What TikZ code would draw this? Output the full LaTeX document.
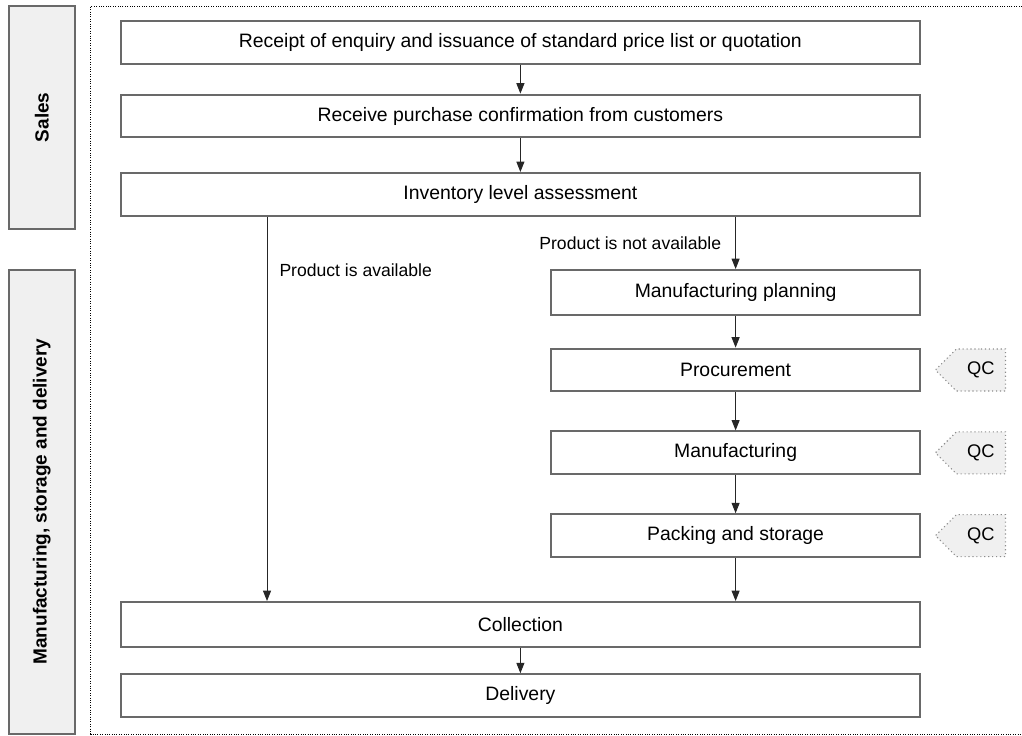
\documentclass[tikz,border=0pt]{standalone}
\usepackage{fontspec}
\setmainfont{Liberation Sans}
\definecolor{boxgray}{RGB}{105, 105, 105}
\definecolor{panelfill}{RGB}{240, 240, 240}
\definecolor{tagline}{RGB}{140, 140, 140}
\usetikzlibrary{shapes.symbols, arrows.meta, positioning, calc}

\tikzset{
  stepbox/.style={draw=boxgray, line width=1.4pt, fill=white, minimum height=1.07cm, inner sep=0pt, font=\fontsize{13.8}{16}\selectfont, align=center},
  sidebox/.style={draw=boxgray, line width=1.4pt, fill=panelfill, minimum width=1.66cm, inner sep=0pt, font=\fontsize{13.5}{16}\selectfont\bfseries},
  qctag/.style={shape=signal, signal to=west, signal pointer angle=90, draw=tagline, dotted, line width=0.8pt, fill=panelfill, minimum height=1.05cm, inner ysep=0pt, inner xsep=0.27cm, font=\fontsize{13}{15}\selectfont},
  flow/.style={-{Triangle[length=0.26cm, width=0.2cm]}, line width=0.7pt, draw=black!85},
  branch/.style={font=\fontsize{12.5}{15}\selectfont, inner sep=0pt},
}

\begin{document}
\begin{tikzpicture}
  \useasboundingbox (0, 0) rectangle (25.55, -18.375);

  % Department columns
  \node[sidebox, minimum height=5.58cm] (sales) at (1.046, -2.934) {\rotatebox{90}{Sales}};
  \node[sidebox, minimum height=11.6cm] (mfgside) at (1.046, -12.54) {\rotatebox{90}{Manufacturing, storage and delivery}};

  % Process frame
  \draw[densely dotted, line width=0.7pt] (25.55, -0.15) -| (2.27, -18.35) -- (25.55, -18.35);

  % Sales steps
  \node[stepbox, minimum width=19.97cm] (enq) at (13.01, -1.06) {Receipt of enquiry and issuance of standard price list or quotation};
  \node[stepbox, minimum width=19.97cm] (conf) at (13.01, -2.9) {Receive purchase confirmation from customers};
  \node[stepbox, minimum width=19.97cm] (inv) at (13.01, -4.86) {Inventory level assessment};

  % Manufacturing branch
  \node[stepbox, minimum width=9.22cm, minimum height=1.12cm] (plan) at (18.39, -7.31) {Manufacturing planning};
  \node[stepbox, minimum width=9.22cm] (proc) at (18.39, -9.25) {Procurement};
  \node[stepbox, minimum width=9.22cm] (manu) at (18.39, -11.32) {Manufacturing};
  \node[stepbox, minimum width=9.22cm] (pack) at (18.39, -13.39) {Packing and storage};

  % QC tags
  \node[qctag, anchor=east] (qcproc) at (25.15, -9.25) {QC};
  \node[qctag, anchor=east] (qcmanu) at (25.15, -11.32) {QC};
  \node[qctag, anchor=east] (qcpack) at (25.15, -13.39) {QC};

  % Delivery steps
  \node[stepbox, minimum width=19.97cm, minimum height=1.12cm] (coll) at (13.01, -15.61) {Collection};
  \node[stepbox, minimum width=19.97cm] (deliv) at (13.01, -17.39) {Delivery};

  % Arrows
  \draw[flow] (enq) -- (conf);
  \draw[flow] (conf) -- (inv);
  \draw[flow] (plan.north |- inv.south) -- node[branch, left=0.35cm] {Product is not available} (plan.north);
  \path (inv.south west) ++(3.675, 0) coordinate (avail);
  \draw[flow] (avail) -- node[branch, pos=0.14, right=0.3cm] {Product is available} (avail |- coll.north);
  \draw[flow] (plan) -- (proc);
  \draw[flow] (proc) -- (manu);
  \draw[flow] (manu) -- (pack);
  \draw[flow] (pack.south) -- (pack.south |- coll.north);
  \draw[flow] (coll) -- (deliv);
\end{tikzpicture}
\end{document}
